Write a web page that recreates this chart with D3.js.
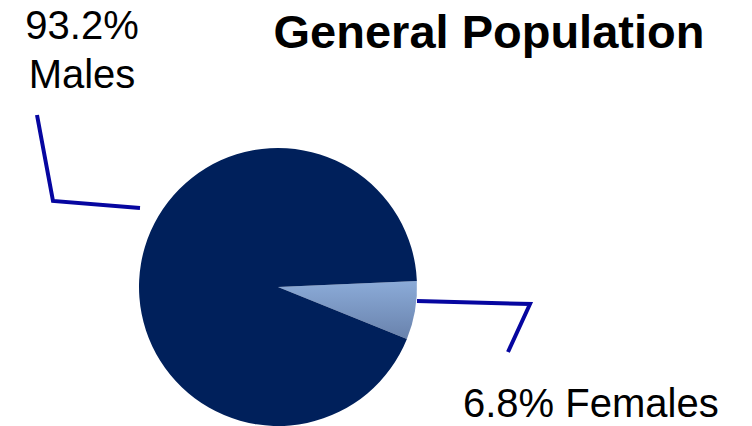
<!DOCTYPE html>
<html>
<head>
<meta charset="utf-8">
<script src="https://cdn.jsdelivr.net/npm/d3@7"></script>
<style>
  html, body { margin: 0; padding: 0; background: #fff; }
  svg { display: block; font-family: "Liberation Sans", Arial, sans-serif; }
</style>
</head>
<body>
<div id="chart"></div>
<script>
// data
const categories = ['Females', 'Males'];
const shares = [6.8, 93.2];
const labels = [['6.8% Females'], ['93.2%', 'Males']];
const title = 'General Population';

const width = 752, height = 426;
const cx = 278, cy = 287, radius = 139;

const svg = d3.select('#chart').append('svg')
    .attr('width', width)
    .attr('height', height);

// gradient for the small slice
const defs = svg.append('defs');
const grad = defs.append('linearGradient')
    .attr('id', 'femGrad')
    .attr('gradientUnits', 'userSpaceOnUse')
    .attr('x1', 0).attr('y1', -10)
    .attr('x2', 0).attr('y2', 55);
grad.append('stop').attr('offset', '0%').attr('stop-color', '#8eaedb');
grad.append('stop').attr('offset', '100%').attr('stop-color', '#6780aa');

const colors = d3.scaleOrdinal()
    .domain(categories)
    .range(['url(#femGrad)', '#00205b']);

const start = 87.5 * Math.PI / 180;
const pie = d3.pie()
    .sort(null)
    .startAngle(start)
    .endAngle(start + 2 * Math.PI)
    .value(d => d);

const arc = d3.arc().innerRadius(0).outerRadius(radius);

const g = svg.append('g').attr('transform', `translate(${cx},${cy})`);

g.selectAll('path.slice')
    .data(pie(shares))
    .enter()
    .append('path')
    .attr('class', 'slice')
    .attr('d', arc)
    .attr('fill', (d, i) => colors(categories[i]));

// leader lines
const lineColor = '#0606a0';
const leaders = [
    [[417, 301], [530, 304], [508, 352]],
    [[140, 208], [53, 201], [37, 115]]
];
svg.selectAll('path.leader')
    .data(leaders)
    .enter()
    .append('path')
    .attr('class', 'leader')
    .attr('d', d3.line())
    .attr('fill', 'none')
    .attr('stroke', lineColor)
    .attr('stroke-width', 4);

// labels
svg.append('text')
    .attr('x', 463)
    .attr('y', 417)
    .attr('font-size', 40)
    .attr('fill', '#000')
    .text(labels[0][0]);

const maleLbl = svg.append('text')
    .attr('text-anchor', 'middle')
    .attr('font-size', 40)
    .attr('fill', '#000');
labels[1].forEach((t, i) => {
    maleLbl.append('tspan')
        .attr('x', 82)
        .attr('y', 39 + i * 49)
        .text(t);
});

// title
svg.append('text')
    .attr('x', 489)
    .attr('y', 48)
    .attr('text-anchor', 'middle')
    .attr('font-size', 47)
    .attr('font-weight', 'bold')
    .attr('fill', '#000')
    .text(title);
</script>
</body>
</html>
